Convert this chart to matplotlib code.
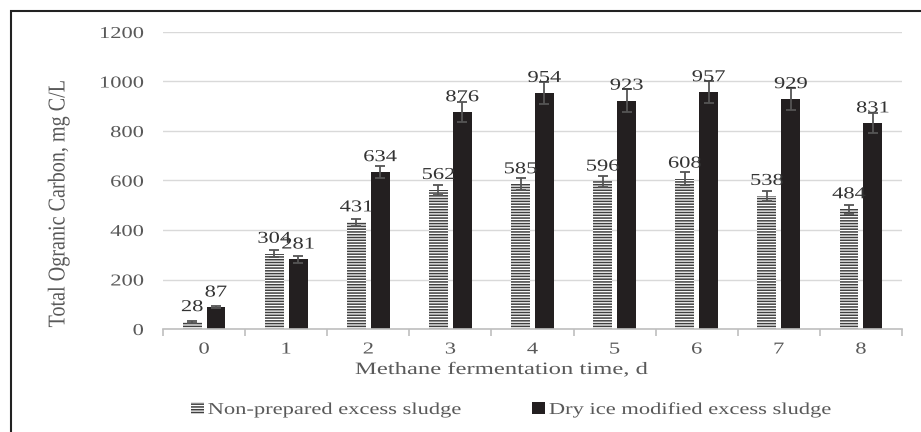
import numpy as np
import matplotlib.pyplot as plt
from matplotlib.patches import Rectangle
from matplotlib.patheffects import AbstractPathEffect
from matplotlib.transforms import Affine2D

plt.rcParams['font.family'] = ['Liberation Serif', 'DejaVu Serif']
plt.rcParams['hatch.linewidth'] = 1.1

days = ['0', '1', '2', '3', '4', '5', '6', '7', '8']
non_prepared = [28, 304, 431, 562, 585, 596, 608, 538, 484]
non_prepared_err = [3, 15, 15, 20, 25, 22, 25, 20, 18]
dry_ice = [87, 281, 634, 876, 954, 923, 957, 929, 831]
dry_ice_err = [4, 15, 25, 40, 45, 45, 45, 45, 40]


class Stretch(AbstractPathEffect):
    # widen text glyphs (the source image looks stretched sideways)
    def __init__(self, sx=1.35, sy=1.0, anchor='center'):
        super().__init__()
        self.sx, self.sy, self.anchor = sx, sy, anchor

    def draw_path(self, renderer, gc, tpath, affine, rgbFace=None):
        ext = tpath.get_extents()
        if self.anchor == 'left':
            x0 = 0
        elif self.anchor == 'right':
            x0 = ext.x1
        else:
            x0 = (ext.x0 + ext.x1) / 2
        y0 = (ext.y0 + ext.y1) / 2
        t = Affine2D().translate(-x0, -y0).scale(self.sx, self.sy).translate(x0, y0) + affine
        renderer.draw_path(gc, tpath, t, rgbFace)


txt = '#595959'
fig = plt.figure(figsize=(9.21, 4.32), dpi=100)
fig.patches.append(Rectangle((11 / 921, -0.1), 1.0, 1.1 - 11 / 432,
                             transform=fig.transFigure, fill=False,
                             edgecolor='#222222', linewidth=1.5))
ax = fig.add_axes([163 / 921, 1 - 329 / 432, 739 / 921, 297 / 432])

x = np.arange(len(days))
w = 0.23
off = w / 2 + 0.03
b1 = ax.bar(x - off, non_prepared, w, color='white', edgecolor='#404040',
            hatch='------', linewidth=0, label='Non-prepared excess sludge', zorder=2)
b2 = ax.bar(x + off, dry_ice, w, color='#231f20',
            label='Dry ice modified excess sludge', zorder=2)
ax.errorbar(x - off, non_prepared, yerr=non_prepared_err, fmt='none',
            ecolor='#555555', elinewidth=1.3, capsize=3.5, capthick=1.3, zorder=3)
ax.errorbar(x + off, dry_ice, yerr=dry_ice_err, fmt='none',
            ecolor='#555555', elinewidth=1.3, capsize=3.5, capthick=1.3, zorder=3)

for xs, vals in [(x - off, non_prepared), (x + off, dry_ice)]:
    for xi, v in zip(xs, vals):
        ax.annotate(str(v), (xi, v), xytext=(0, 5), textcoords='offset points',
                    ha='center', va='bottom', fontsize=12, color='#333333',
                    zorder=4, path_effects=[Stretch()])

ax.set_xlim(-0.5, len(days) - 0.5)
ax.set_ylim(0, 1200)
ax.set_yticks(range(0, 1201, 200))
ax.set_xticks(x)
ax.set_xticklabels(days)
ax.set_xticks(np.arange(-0.5, len(days), 1), minor=True)
ax.yaxis.grid(True, color='#d9d9d9', linewidth=1, zorder=0)
ax.set_axisbelow(True)
for s in ['top', 'right', 'left']:
    ax.spines[s].set_visible(False)
ax.spines['bottom'].set_color('#bfbfbf')
ax.spines['bottom'].set_linewidth(1.2)
ax.tick_params(axis='y', length=0, labelsize=12, labelcolor=txt, pad=14)
ax.tick_params(axis='x', which='major', length=0, labelsize=12, labelcolor=txt, pad=9)
ax.tick_params(axis='x', which='minor', length=5, width=1.2, color='#bfbfbf')
for lbl in ax.get_yticklabels():
    lbl.set_path_effects([Stretch(anchor='right')])
for lbl in ax.get_xticklabels():
    lbl.set_path_effects([Stretch()])

fig.text(502 / 921, 1 - 370 / 432, 'Methane fermentation time, d', fontsize=12.5,
         color=txt, ha='center', va='center', path_effects=[Stretch(sx=1.42)])
fig.text(59 / 921, 1 - 204 / 432, 'Total Ogranic Carbon, mg C/L', fontsize=14.5,
         color=txt, ha='center', va='center', rotation=90,
         path_effects=[Stretch(sx=1.0, sy=1.2)])

leg = fig.legend(handles=[b1, b2], loc='center left', bbox_to_anchor=(191 / 921, 1 - 410 / 432),
                 ncol=2, frameon=False, fontsize=12, labelcolor=txt, handlelength=0.75,
                 handleheight=0.75, handletextpad=0.25, columnspacing=8.2,
                 borderaxespad=0, borderpad=0)
for t in leg.get_texts():
    t.set_path_effects([Stretch(anchor='left')])

fig.savefig('out.png', dpi=100)
